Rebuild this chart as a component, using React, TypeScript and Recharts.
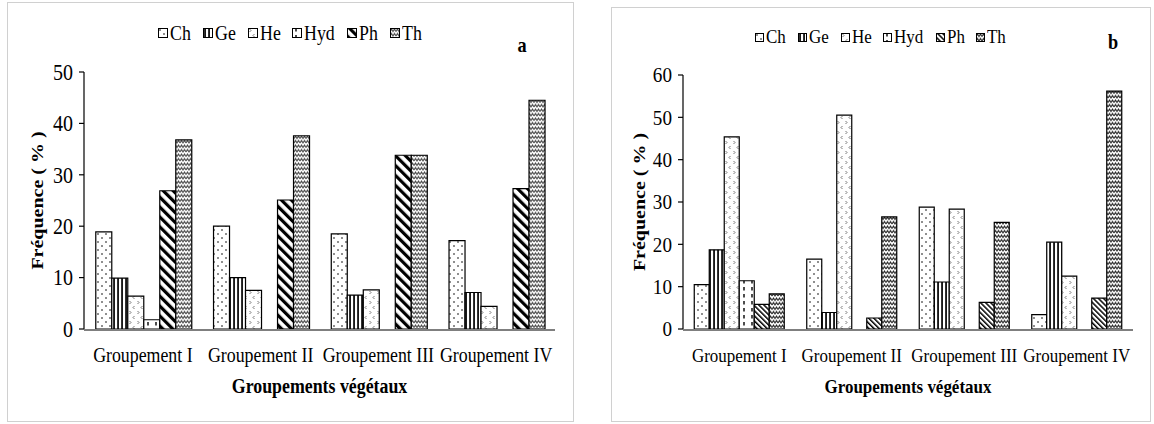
import React from 'react';
import { BarChart, Bar, XAxis, YAxis, Legend } from 'recharts';

const categories = ['Groupement I', 'Groupement II', 'Groupement III', 'Groupement IV'];
const seriesNames = ['Ch', 'Ge', 'He', 'Hyd', 'Ph', 'Th'];

// Panel a
const chA = [18.9, 20.0, 18.5, 17.2];
const geA = [9.9, 10.0, 6.6, 7.1];
const heA = [6.4, 7.5, 7.6, 4.4];
const hydA = [1.8, 0, 0, 0];
const phA = [26.9, 25.1, 33.8, 27.3];
const thA = [36.8, 37.6, 33.8, 44.5];

// Panel b
const chB = [10.5, 16.5, 28.8, 3.4];
const geB = [18.7, 3.9, 11.1, 20.5];
const heB = [45.4, 50.5, 28.3, 12.5];
const hydB = [11.4, 0, 0, 0];
const phB = [5.8, 2.6, 6.3, 7.3];
const thB = [8.3, 26.5, 25.2, 56.2];

const yTicksA = [0, 10, 20, 30, 40, 50];
const yTicksB = [0, 10, 20, 30, 40, 50, 60];
const boundaryTicks = [0, 1, 2, 3, 4];

const yTitle = 'Fréquence ( % )';
const xTitle = 'Groupements végétaux';

const FONT = "'Liberation Serif', 'Times New Roman', Times, serif";
const SX = 0.87; // horizontal squeeze of the lettering

let measureCtx: CanvasRenderingContext2D | null = null;
function measure(text: string, font: string) {
  if (!measureCtx && typeof document !== 'undefined') {
    measureCtx = document.createElement('canvas').getContext('2d');
  }
  if (!measureCtx) return text.length * 9;
  measureCtx.font = font;
  return measureCtx.measureText(text).width;
}

function buildRows(cols: number[][]) {
  return categories.map((name, i) => {
    const row: any = { name };
    seriesNames.forEach((s, j) => {
      row[s] = cols[j][i];
    });
    return row;
  });
}

const dataA = buildRows([chA, geA, heA, hydA, phA, thA]);
const dataB = buildRows([chB, geB, heB, hydB, phB, thB]);

function renderPatterns(p: string, dense: boolean) {
  return (
    <defs>
      <pattern id={p + 'Ch'} width="8" height="8" patternUnits="userSpaceOnUse">
        <rect width="8" height="8" fill="#fff" />
        <circle cx="2" cy="2" r="0.8" fill="#000" />
        <circle cx="6" cy="6" r="0.8" fill="#000" />
      </pattern>
      <pattern id={p + 'Ge'} width="4" height="4" patternUnits="userSpaceOnUse">
        <rect width="4" height="4" fill="#fff" />
        <rect x="1.2" width="1.7" height="4" fill="#000" />
      </pattern>
      <pattern id={p + 'He'} width="8" height="10" patternUnits="userSpaceOnUse">
        <rect width="8" height="10" fill="#fff" />
        <path d="M1.5,1 L3,2.5 L1.5,4" stroke="#555" strokeWidth="0.8" fill="none" />
        <path d="M6.5,6 L5,7.5 L6.5,9" stroke="#555" strokeWidth="0.8" fill="none" />
      </pattern>
      <pattern id={p + 'Hyd'} width="8" height="7" patternUnits="userSpaceOnUse">
        <rect width="8" height="7" fill="#fff" />
        <line x1="4" y1="0" x2="4" y2="3.5" stroke="#000" strokeWidth="1.4" />
      </pattern>
      <pattern
        id={p + 'Ph'}
        width={dense ? 3.6 : 7}
        height={dense ? 3.6 : 7}
        patternUnits="userSpaceOnUse"
        patternTransform="rotate(-45)"
      >
        <rect width={dense ? 3.6 : 7} height={dense ? 3.6 : 7} fill="#fff" />
        <rect x="0" y="0" width={dense ? 1.5 : 3.2} height={dense ? 3.6 : 7} fill="#000" />
      </pattern>
      <pattern id={p + 'Th'} width="6" height="4.5" patternUnits="userSpaceOnUse">
        <rect width="6" height="4.5" fill="#fff" />
        <path
          d="M0,3.5 L1.5,1 L3,3.5 L4.5,1 L6,3.5"
          stroke={dense ? '#222' : '#444'}
          strokeWidth="1"
          fill="none"
        />
      </pattern>
    </defs>
  );
}

function CatTick(props: any) {
  const { x, y, payload, fs } = props;
  return (
    <text
      transform={`translate(${x},${y + 33}) scale(${SX},1)`}
      x={0}
      y={0}
      textAnchor="middle"
      fontSize={fs}
      fontFamily={FONT}
      fill="#000"
    >
      {payload.value}
    </text>
  );
}

function ValTick(props: any) {
  const { x, y, payload, fs } = props;
  return (
    <text
      transform={`translate(${x},${y}) scale(${SX},1)`}
      x={0}
      y={0}
      dy="0.34em"
      textAnchor="end"
      fontSize={fs}
      fontFamily={FONT}
      fill="#000"
    >
      {payload.value}
    </text>
  );
}

function makeLegend(prefix: string, fontSize: number, boxSize: number, gap: number) {
  const font = `${fontSize}px 'Liberation Serif'`;
  return () => (
    <div
      style={{
        display: 'flex',
        alignItems: 'center',
        fontFamily: FONT,
        fontSize,
        color: '#000',
        whiteSpace: 'nowrap',
        lineHeight: '22px',
      }}
    >
      {seriesNames.map((s) => {
        const w = measure(s, font) * SX;
        return (
          <span key={s} style={{ display: 'inline-flex', alignItems: 'center', marginRight: gap }}>
            <svg width={boxSize} height={boxSize} style={{ marginRight: 2, display: 'block' }}>
              <rect
                x={0.5}
                y={0.5}
                width={boxSize - 1}
                height={boxSize - 1}
                fill={`url(#${prefix}${s})`}
                stroke="#000"
                strokeWidth={1}
              />
            </svg>
            <span style={{ display: 'inline-block', width: w, overflow: 'visible' }}>
              <span
                style={{
                  display: 'inline-block',
                  transform: `scaleX(${SX})`,
                  transformOrigin: '0 50%',
                }}
              >
                {s}
              </span>
            </span>
          </span>
        );
      })}
    </div>
  );
}

type PanelProps = {
  prefix: string;
  data: any[];
  yTicks: number[];
  width: number;
  margin: { top: number; right: number; bottom: number; left: number };
  catFont: number;
  xTitleFont: number;
  yTickFont: number;
  yLabelDx: number;
  legendLeft: number;
  legendTop: number;
  legendFont: number;
  legendBox: number;
  dense: boolean;
};

function Panel(pp: PanelProps) {
  const p = pp.prefix;
  return (
    <BarChart
      width={pp.width}
      height={424}
      data={pp.data}
      margin={pp.margin}
      barCategoryGap="10%"
      barGap={0}
    >
      {renderPatterns(p, pp.dense)}
      <XAxis
        xAxisId="num"
        type="number"
        domain={[0, 4]}
        ticks={boundaryTicks}
        allowDataOverflow
        height={1}
        tick={false}
        tickSize={6}
        axisLine={{ stroke: '#000', strokeWidth: 1.2 }}
        tickLine={{ stroke: '#000', strokeWidth: 1.2 }}
      />
      <XAxis
        xAxisId="cat"
        dataKey="name"
        height={1}
        axisLine={false}
        tickLine={false}
        tickSize={0}
        tickMargin={0}
        interval={0}
        tick={<CatTick fs={pp.catFont} />}
        label={(lp: any) => {
          const vb = lp.viewBox || {};
          const cx = vb.x + vb.width / 2;
          const cy = vb.y + 64;
          return (
            <text
              transform={`translate(${cx},${cy}) scale(${SX},1)`}
              x={0}
              y={0}
              textAnchor="middle"
              fontFamily={FONT}
              fontWeight="bold"
              fontSize={pp.xTitleFont}
              fill="#000"
            >
              {xTitle}
            </text>
          );
        }}
      />
      <YAxis
        width={80}
        domain={[0, pp.yTicks[pp.yTicks.length - 1]]}
        ticks={pp.yTicks}
        allowDataOverflow
        tickSize={5}
        tickMargin={6}
        axisLine={{ stroke: '#000', strokeWidth: 1.2 }}
        tickLine={{ stroke: '#000', strokeWidth: 1.2 }}
        tick={<ValTick fs={pp.yTickFont} />}
        label={(lp: any) => {
          const vb = lp.viewBox || {};
          const cx = vb.x + pp.yLabelDx;
          const cy = vb.y + vb.height / 2;
          return (
            <text
              transform={`translate(${cx},${cy}) rotate(-90) scale(1,${SX})`}
              x={0}
              y={0}
              textAnchor="middle"
              dominantBaseline="central"
              fontFamily={FONT}
              fontWeight="bold"
              fontSize={20}
              fill="#000"
            >
              {yTitle}
            </text>
          );
        }}
      />
      <Legend
        content={makeLegend(p, pp.legendFont, pp.legendBox, 12)}
        layout="horizontal"
        verticalAlign="middle"
        align="center"
        wrapperStyle={{ top: pp.legendTop, left: pp.legendLeft, width: 'auto', height: 22 }}
      />
      {seriesNames.map((s) => (
        <Bar
          key={s}
          xAxisId="cat"
          dataKey={s}
          fill={`url(#${p}${s})`}
          stroke="#000"
          strokeWidth={1.2}
          isAnimationActive={false}
        />
      ))}
    </BarChart>
  );
}

export default function App() {
  return (
    <div
      style={{
        position: 'absolute',
        left: 0,
        top: 0,
        width: 1154,
        height: 424,
        background: '#fff',
        overflow: 'hidden',
      }}
    >
      <div
        style={{
          position: 'absolute',
          left: 7,
          top: 2,
          width: 567,
          height: 420,
          border: '1.5px solid #d0d0d0',
          boxSizing: 'border-box',
        }}
      />
      <div
        style={{
          position: 'absolute',
          left: 611,
          top: 7,
          width: 540,
          height: 415,
          border: '1.5px solid #d0d0d0',
          boxSizing: 'border-box',
        }}
      />
      <div style={{ position: 'absolute', left: 0, top: 0 }}>
        <Panel
          prefix="a"
          data={dataA}
          yTicks={yTicksA}
          width={580}
          margin={{ top: 72, right: 25, bottom: 93, left: 4 }}
          catFont={20.5}
          xTitleFont={20.5}
          yTickFont={23}
          yLabelDx={33}
          legendLeft={158}
          legendTop={22}
          legendFont={20.5}
          legendBox={10}
          dense={false}
        />
      </div>
      <div style={{ position: 'absolute', left: 580, top: 0 }}>
        <Panel
          prefix="b"
          data={dataB}
          yTicks={yTicksB}
          width={574}
          margin={{ top: 75, right: 21, bottom: 93, left: 23 }}
          catFont={19.5}
          xTitleFont={19.5}
          yTickFont={22}
          yLabelDx={36}
          legendLeft={175}
          legendTop={26}
          legendFont={19.5}
          legendBox={9}
          dense={true}
        />
      </div>
      <svg
        width={1154}
        height={424}
        style={{ position: 'absolute', left: 0, top: 0, pointerEvents: 'none' }}
      >
        <text
          transform={`translate(522,52) scale(${SX},1)`}
          textAnchor="middle"
          fontFamily={FONT}
          fontWeight="bold"
          fontSize={21}
          fill="#000"
        >
          a
        </text>
        <text
          transform={`translate(1113,49) scale(${SX},1)`}
          textAnchor="middle"
          fontFamily={FONT}
          fontWeight="bold"
          fontSize={21}
          fill="#000"
        >
          b
        </text>
      </svg>
    </div>
  );
}
